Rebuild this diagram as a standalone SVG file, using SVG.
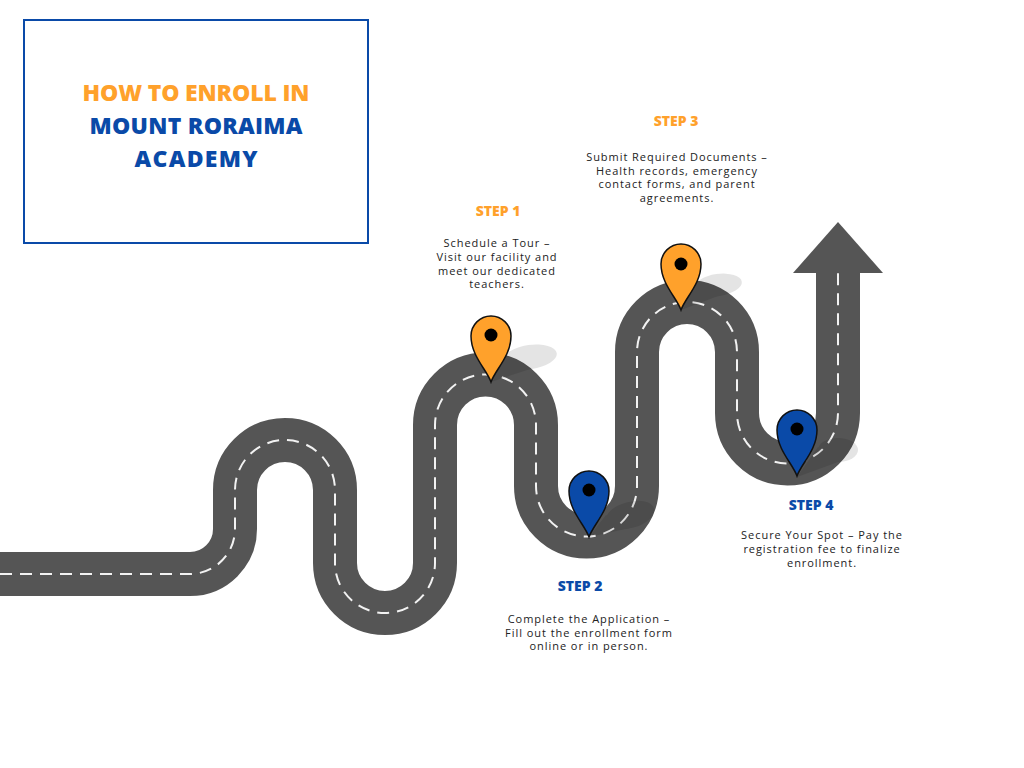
<svg xmlns="http://www.w3.org/2000/svg" width="1024" height="768" viewBox="0 0 1024 768">
<style>
.title{font-family:"Open Sans","Liberation Sans",sans-serif;font-weight:800;font-size:23px;text-anchor:middle}
.step{font-family:"Open Sans","Liberation Sans",sans-serif;font-weight:800;font-size:14px;text-anchor:middle}
.body{font-family:"Open Sans","Liberation Sans",sans-serif;font-size:11px;letter-spacing:0.95px;fill:#222;text-anchor:middle}
.orange{fill:#FFA12B}
.blue{fill:#0A4AA8}
.pin{stroke:#111;stroke-width:1.5}
</style>
<defs>
<path id="pinshape" d="M0 46 C-4 34 -20 20 -20 0 A20 20 0 1 1 20 0 C20 20 4 34 0 46 Z"/>
</defs>
<rect width="1024" height="768" fill="#fff"/>
<g id="title-box">
<rect x="24" y="20" width="344" height="223" fill="#fff" stroke="#0A4AA8" stroke-width="2"/>
<text class="title orange" x="196" y="101" textLength="227">HOW TO ENROLL IN</text>
<text class="title blue" x="196" y="134" textLength="213">MOUNT RORAIMA</text>
<text class="title blue" x="196" y="167" textLength="123">ACADEMY</text>
</g>
<g id="connectors">
<path id="road" d="M0 574 H190 A45 45 0 0 0 235 529 V490 A50 50 0 0 1 335 490 V563 A50 50 0 0 0 435 563 V425 A50.5 50.5 0 0 1 536 425 V486 A50.5 50.5 0 0 0 637 486 V352 A50 50 0 0 1 737 352 V413 A50.5 50.5 0 0 0 838 413 V272" fill="none" stroke="#555" stroke-width="44"/>
<polygon points="793,273 838,222 883,273" fill="#555"/>
<path d="M0 574 H190 A45 45 0 0 0 235 529 V490 A50 50 0 0 1 335 490 V563 A50 50 0 0 0 435 563 V425 A50.5 50.5 0 0 1 536 425 V486 A50.5 50.5 0 0 0 637 486 V352 A50 50 0 0 1 737 352 V413 A50.5 50.5 0 0 0 838 413 V273" fill="none" stroke="#f2f2f2" stroke-width="2" stroke-dasharray="12 8"/>
</g>
<g id="shadows" fill="#000" opacity="0.1">
<ellipse cx="530" cy="357" rx="27" ry="12" transform="rotate(-8 530 357)"/>
<polygon points="491,382 505,356 530,369"/>
</g>
<g fill="#000" opacity="0.1">
<ellipse cx="630" cy="515" rx="25" ry="13" transform="rotate(-15 630 515)"/>
<polygon points="589,537 606,515 630,528"/>
</g>
<g fill="#000" opacity="0.1">
<ellipse cx="718" cy="285" rx="24" ry="11" transform="rotate(-8 718 285)"/>
<polygon points="681,310 695,283 718,296"/>
</g>
<g fill="#000" opacity="0.1">
<ellipse cx="838" cy="450" rx="20" ry="12"/>
<polygon points="797,477 818,447 838,462"/>
</g>
<g id="step1">
<use href="#pinshape" x="491" y="336" class="pin" fill="#FFA12B"/>
<circle cx="491" cy="335" r="6.5" fill="#000"/>
<text class="step orange" x="498" y="216">STEP 1</text>
<text class="body" x="497" y="247">Schedule a Tour –</text>
<text class="body" x="497" y="261">Visit our facility and</text>
<text class="body" x="497" y="275">meet our dedicated</text>
<text class="body" x="497" y="288">teachers.</text>
</g>
<g id="step2">
<use href="#pinshape" x="589" y="491" class="pin" fill="#0A4AA8"/>
<circle cx="589" cy="490" r="6.5" fill="#000"/>
<text class="step blue" x="580" y="591">STEP 2</text>
<text class="body" x="589" y="623">Complete the Application –</text>
<text class="body" x="589" y="637">Fill out the enrollment form</text>
<text class="body" x="589" y="650">online or in person.</text>
</g>
<g id="step3">
<use href="#pinshape" x="681" y="264" class="pin" fill="#FFA12B"/>
<circle cx="681" cy="264" r="6.5" fill="#000"/>
<text class="step orange" x="676" y="126">STEP 3</text>
<text class="body" x="677" y="161">Submit Required Documents –</text>
<text class="body" x="677" y="175">Health records, emergency</text>
<text class="body" x="677" y="188">contact forms, and parent</text>
<text class="body" x="677" y="202">agreements.</text>
</g>
<g id="step4">
<use href="#pinshape" x="797" y="430" class="pin" fill="#0A4AA8"/>
<circle cx="797" cy="429" r="6.5" fill="#000"/>
<text class="step blue" x="811" y="510">STEP 4</text>
<text class="body" x="822" y="539">Secure Your Spot – Pay the</text>
<text class="body" x="822" y="553">registration fee to finalize</text>
<text class="body" x="822" y="567">enrollment.</text>
</g>
</svg>
